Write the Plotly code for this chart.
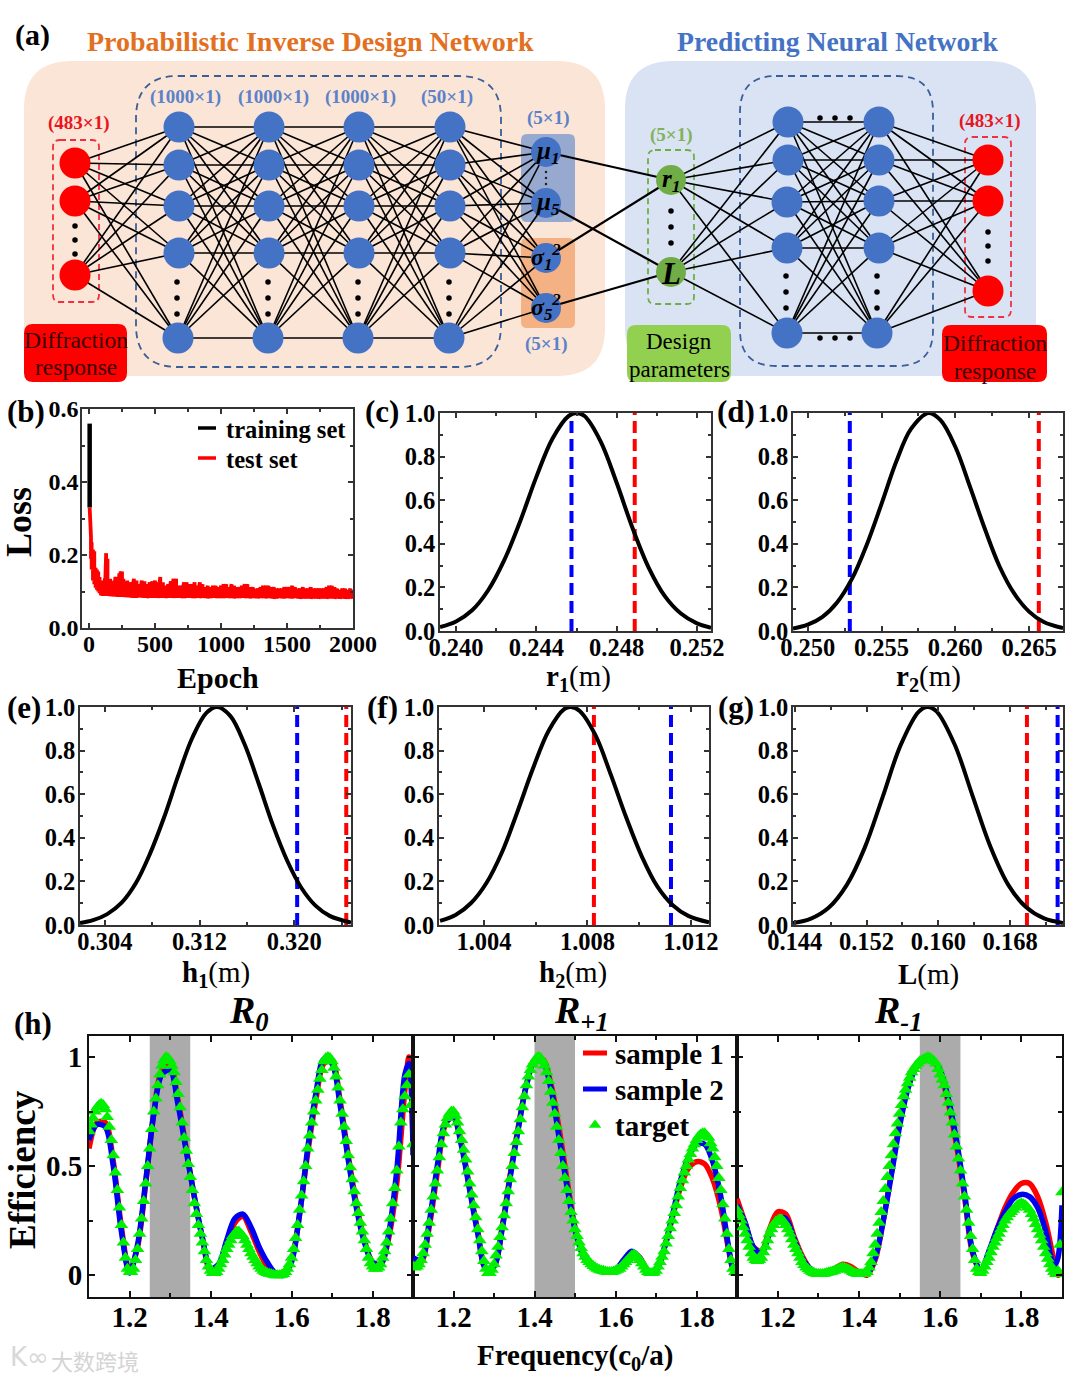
import plotly.graph_objects as go

# ---------- data ----------
loss_train_epoch = [5, 5]
loss_train = [0.56, 0.33]
loss_epoch = [5,10,15,20,30,40,50,60,70,80,90,100,110,120,130,140,150,160,170,180,190,200,210,220,230,240,250,260,270,280,290,300,
 320,340,360,380,400,420,440,460,480,500,520,540,560,580,600,620,640,660,680,700,720,740,760,780,800,820,840,860,880,900,920,940,960,980,
 1000,1020,1040,1060,1080,1100,1120,1140,1160,1180,1200,1220,1240,1260,1280,1300,1320,1340,1360,1380,1400,1420,1440,1460,1480,
 1500,1520,1540,1560,1580,1600,1620,1640,1660,1680,1700,1720,1740,1760,1780,1800,1820,1840,1860,1880,1900,1920,1940,1960,1980,2000]
loss_test_high = [.33,.29,.25,.235,.215,.21,.165,.16,.155,.14,.13,.12,.12,.135,.205,.19,.125,.135,.12,.12,.13,.14,.14,.125,.15,.155,.155,.135,.12,.125,.13,.12,
 .125,.135,.13,.12,.13,.128,.12,.125,.128,.13,.125,.14,.125,.116,.12,.128,.135,.135,.116,.116,.125,.125,.12,.12,.125,.116,.125,.12,.112,.116,.112,.116,.116,.112,
 .116,.12,.12,.112,.12,.116,.112,.112,.116,.12,.12,.112,.112,.108,.108,.112,.116,.116,.116,.112,.112,.108,.108,.108,.112,
 .112,.112,.116,.112,.108,.108,.112,.108,.108,.112,.108,.108,.108,.108,.108,.112,.116,.116,.112,.108,.104,.108,.108,.104,.108,.104]
loss_test_low = [.33,.26,.19,.16,.13,.12,.11,.105,.10,.095,.09,.088,.088,.088,.088,.088,.088,.087,.087,.086,.086,.086,.086,.085,.085,.085,.085,.085,.085,.084,.084,.084,
 .083,.083,.083,.084,.083,.083,.082,.083,.083,.083,.082,.083,.083,.082,.083,.083,.082,.083,.083,.082,.082,.083,.083,.082,.082,.083,.082,.083,.082,.081,.082,.083,.082,.082,
 .082,.082,.083,.082,.082,.081,.082,.082,.083,.082,.082,.081,.082,.082,.081,.082,.082,.081,.082,.081,.080,.081,.082,.081,.081,
 .082,.081,.081,.082,.081,.080,.081,.081,.081,.080,.081,.081,.080,.081,.081,.080,.081,.081,.080,.081,.080,.081,.080,.080,.081,.080]

r1_x = [.2392,.2400,.2408,.2416,.2424,.2432,.2440,.2448,.2456,.2460,.2464,.2472,.2480,.2488,.2496,.2504,.2512,.2520,.2527]
r1_y = [.018,.044,.095,.187,.325,.505,.707,.882,.986,1,.986,.87,.68,.47,.29,.16,.08,.035,.015]
r1_red, r1_blue = .2489, .24575
r2_x = [.2490,.2500,.2510,.2520,.2530,.2540,.2550,.2560,.2570,.2582,.2590,.2600,.2610,.2620,.2630,.2640,.2650,.2660,.2673]
r2_y = [.011,.029,.065,.132,.24,.396,.583,.777,.927,1,.967,.845,.661,.469,.296,.171,.089,.041,.013]
r2_red, r2_blue = .26566, .25285
h1_x = [.3019,.3030,.3042,.3054,.3066,.3078,.3090,.3102,.3114,.3126,.3135,.3146,.3158,.3170,.3182,.3194,.3206,.3218,.3230,.3248]
h1_y = [.009,.022,.05,.101,.19,.325,.493,.685,.86,.974,1,.959,.83,.649,.458,.296,.171,.089,.042,.011]
h1_red, h1_blue = .3244, .32025
h2_x = [1.0023,1.0029,1.0035,1.0041,1.0047,1.0053,1.0059,1.0065,1.0071,1.00736,1.0077,1.0083,1.0089,1.0095,1.0101,1.0107,1.0113,1.0119,1.0127]
h2_y = [.019,.046,.101,.194,.335,.522,.72,.891,.99,1,.982,.873,.691,.493,.315,.177,.091,.042,.012]
h2_red, h2_blue = 1.00825, 1.01123
L_x = [.1438,.1458,.1478,.1498,.1518,.1538,.1558,.1578,.1588,.1598,.1618,.1638,.1658,.1678,.1698,.1718,.1739]
L_y = [.009,.029,.08,.184,.355,.588,.825,.978,1,.98,.83,.595,.36,.184,.081,.03,.009]
L_red, L_blue = .16988, .1733

freq_sample = [1.10,1.12,1.14,1.16,1.18,1.20,1.22,1.24,1.26,1.28,1.30,1.32,1.34,1.36,1.38,1.40,1.42,1.44,1.46,1.48,1.50,
 1.52,1.54,1.56,1.58,1.60,1.62,1.64,1.66,1.68,1.70,1.72,1.74,1.76,1.78,1.80,1.82,1.84,1.86,1.88,1.89,1.90]

R0_s1 = [.58,.70,.70,.52,.22,.02,.13,.42,.74,.94,.96,.80,.58,.36,.17,.02,.04,.14,.24,.27,.20,.11,.04,0,.01,.07,.28,.56,.80,.97,.98,.80,.55,.33,.16,.06,.05,.17,.42,.85,1.0,.62]
R0_s2 = [.62,.69,.68,.50,.20,.01,.14,.43,.74,.92,.94,.78,.57,.36,.17,.03,.05,.16,.26,.28,.22,.13,.06,.01,0,.06,.28,.58,.83,.99,.97,.78,.53,.31,.15,.06,.05,.19,.48,.92,.97,.55]
R0_t = [.66,.69,.72,.75,.77,.78,.785,.78,.76,.725,.68,.62,.55,.47,.39,.31,.23,.15,.08,.03,.015,.015,.03,.07,.12,.19,.26,.34,.42,.50,.58,.67,.75,.81,.87,.92,.96,.985,1.0,.995,
 .98,.96,.93,.885,.83,.77,.70,.63,.57,.51,.45,.39,.33,.28,.23,.19,.15,.11,.07,.04,.02,.01,.01,.015,.03,.05,.07,.095,.12,.14,.16,.18,.19,.2,.2,.19,.18,.16,.14,.12,
 .10,.085,.07,.055,.04,.03,.02,.015,.01,.007,.005,.002,0,0,0,.002,.005,.015,.03,.05,.08,.12,.17,.23,.30,.365,.43,.50,.58,.64,.70,.75,.80,.85,.90,.94,.98,.995,1.0,.995,
 .98,.95,.91,.86,.80,.74,.68,.615,.55,.495,.44,.385,.33,.285,.24,.20,.16,.12,.08,.055,.04,.03,.03,.035,.05,.08,.11,.15,.20,.26,.33,.40,.48,.59,.70,.76,.82,.87,.92,.78,.60]

Rp_s1 = [.06,.06,.22,.47,.69,.73,.60,.40,.20,.03,.04,.22,.46,.68,.87,.98,.99,.88,.68,.44,.22,.09,.04,.02,.015,.02,.06,.10,.08,.02,.02,.12,.26,.40,.49,.52,.51,.44,.31,.11,.03,.01]
Rp_s2 = [.08,.07,.24,.50,.70,.72,.59,.39,.19,.03,.04,.21,.45,.67,.87,.98,.98,.86,.64,.41,.21,.09,.04,.02,.015,.025,.07,.11,.08,.02,.02,.12,.27,.43,.54,.60,.60,.52,.36,.12,.03,.01]
Rp_t = [.04,.035,.04,.05,.07,.10,.14,.19,.24,.30,.36,.42,.48,.54,.60,.65,.69,.72,.74,.75,.75,.73,.70,.66,.62,.575,.53,.475,.42,.37,.32,.265,.21,.16,.11,.065,.03,.01,.01,.025,
 .05,.09,.13,.175,.22,.275,.33,.385,.44,.50,.56,.61,.66,.715,.77,.82,.87,.91,.94,.965,.98,.995,1.0,.995,.98,.96,.93,.89,.84,.79,.74,.68,.62,.56,.50,.445,.39,.34,.29,.25,
 .21,.18,.15,.125,.10,.085,.07,.06,.05,.042,.035,.03,.025,.022,.02,.017,.015,.015,.015,.017,.02,.025,.03,.04,.05,.06,.07,.08,.09,.095,.09,.08,.07,.055,.04,.025,.015,.01,.01,.012,
 .02,.04,.06,.085,.11,.145,.18,.215,.25,.285,.32,.36,.40,.435,.47,.50,.53,.555,.58,.60,.62,.635,.645,.65,.65,.64,.63,.605,.58,.54,.50,.445,.39,.325,.26,.19,.12,.07,.03,.015,.01]

Rm_s1 = [.35,.24,.13,.11,.21,.29,.28,.18,.09,.03,.01,.015,.03,.05,.04,.015,0,.07,.25,.47,.70,.86,.95,.99,.99,.93,.79,.60,.36,.10,.02,.10,.21,.31,.38,.42,.42,.36,.24,.07,0,.01]
Rm_s2 = [.32,.24,.13,.10,.19,.26,.26,.17,.08,.03,.01,.015,.02,.03,.025,.01,.005,.08,.25,.46,.68,.85,.95,.99,.99,.94,.81,.62,.38,.11,.02,.11,.21,.29,.35,.37,.36,.31,.20,.04,.08,.32]
Rm_t = [.30,.275,.25,.22,.19,.16,.13,.10,.08,.07,.065,.07,.08,.105,.13,.16,.19,.21,.23,.245,.25,.255,.255,.245,.23,.21,.19,.165,.14,.12,.10,.08,.06,.047,.035,.027,.02,.015,.01,.007,
 .005,.005,.005,.007,.01,.012,.015,.017,.02,.025,.03,.033,.035,.033,.03,.025,.02,.015,.01,.007,.005,.005,.005,.008,.015,.035,.06,.10,.14,.19,.24,.29,.34,.395,.45,.50,.55,.60,.65,.695,
 .74,.78,.82,.85,.88,.905,.93,.945,.96,.97,.98,.985,.99,.995,1.0,.995,.99,.98,.97,.945,.92,.895,.87,.83,.79,.745,.70,.645,.59,.535,.48,.42,.36,.30,.24,.18,.12,.07,.03,.015,
 .01,.02,.04,.06,.08,.105,.13,.15,.17,.19,.21,.23,.25,.265,.28,.29,.30,.31,.32,.325,.33,.325,.32,.31,.30,.28,.26,.235,.21,.185,.16,.13,.10,.075,.05,.03,.015,.005,.02,.14,.38]

freq_target = [round(1.10 + 0.005 * i, 3) for i in range(len(R0_t))]
bands = [(1.25, 1.35), (1.40, 1.50), (1.55, 1.65)]

# ---------- page constants ----------
W, H = 1073, 1379
SERIF = "Liberation Serif"
INK = "#333333"
fig = go.Figure()

def ann(x, y, text, size=21, color="black", bold=True, angle=0, family=SERIF, italic=False):
    t = text
    if italic: t = f"<i>{t}</i>"
    if bold: t = f"<b>{t}</b>"
    fig.add_annotation(x=x, y=y, xref="x", yref="y", text=t, showarrow=False, textangle=angle,
                       font=dict(family=family, size=size, color=color), xanchor="center", yanchor="middle")

def rrect(x0, y0, x1, y1, r):
    return (f"M{x0+r},{y0} L{x1-r},{y0} Q{x1},{y0} {x1},{y0+r} L{x1},{y1-r} Q{x1},{y1} {x1-r},{y1} "
            f"L{x0+r},{y1} Q{x0},{y1} {x0},{y1-r} L{x0},{y0+r} Q{x0},{y0} {x0+r},{y0} Z")

def box(x0, y0, x1, y1, r, fill=None, line=None, dash=None, width=1.8):
    fig.add_shape(type="path", path=rrect(x0, y0, x1, y1, r), xref="x", yref="y", layer="below",
                  fillcolor=fill if fill else "rgba(0,0,0,0)",
                  line=dict(color=line if line else "rgba(0,0,0,0)", width=width if line else 0, dash=dash or "solid"))

# ---------- panel (a) network ----------
box(24, 61, 605, 376, 48, fill="#FBE5D6")
box(625, 61, 1036, 376, 48, fill="#DAE3F3")
box(521, 134, 575, 222, 6, fill="#97A9CF")
box(521, 238, 575, 328, 6, fill="#F4B183")
box(136, 76, 501, 367, 42, line="#3A5E99", dash="7px,5px")
box(740, 76, 933, 366, 36, line="#3A5E99", dash="7px,5px")
box(53, 140, 99, 302, 7, line="#F03040", dash="6px,4px")
box(648, 150, 694, 304, 7, line="#70AD47", dash="6px,4px")
box(965, 137, 1011, 317, 7, line="#F03040", dash="6px,4px")
box(24, 324, 127, 382, 9, fill="#FF0000")
box(627, 325, 731, 382, 9, fill="#92D050")
box(942, 325, 1047, 382, 9, fill="#FF0000")

inp = [(75, 163), (75, 201), (75, 275)]
def col(x):
    ys = [127, 165, 206, 253, 338]
    return [(x, y) if i < 4 else (x - 1, y) for i, y in enumerate(ys)]
L1, L2, L3, L4 = col(179), col(269), col(359), col(450)
outs = [(546, 152), (546, 203), (546, 258), (546, 308)]
green = [(671, 180), (671, 272)]
P1 = [(788, 122), (788, 160), (787, 202), (787, 248), (787, 333)]
P2 = [(879, 122), (879, 160), (879, 201), (879, 248), (877, 333)]
rout = [(988, 160), (988, 201), (988, 291)]

def conn(A, B):
    xs, ys = [], []
    for a in A:
        for b in B:
            xs += [a[0], b[0], None]; ys += [a[1], b[1], None]
    return xs, ys

xs, ys = [], []
for A, B in [(inp, L1), (L1, L2), (L2, L3), (L3, L4), (L4, outs), (green, P1), (P1, P2), (P2, rout)]:
    a, b = conn(A, B); xs += a; ys += b
fig.add_trace(go.Scatter(x=xs, y=ys, mode="lines", line=dict(color="black", width=1.6), hoverinfo="skip", showlegend=False))
xs, ys = [], []
for a, b in [(outs[0], green[0]), (outs[1], green[1]), (outs[2], green[0]), (outs[3], green[1])]:
    xs += [a[0], b[0], None]; ys += [a[1], b[1], None]
fig.add_trace(go.Scatter(x=xs, y=ys, mode="lines", line=dict(color="black", width=2.2), hoverinfo="skip", showlegend=False))

def nodes(P, color, size):
    fig.add_trace(go.Scatter(x=[p[0] for p in P], y=[p[1] for p in P], mode="markers",
                             marker=dict(color=color, size=size, line=dict(width=0)), hoverinfo="skip", showlegend=False))
nodes(inp, "#FF0000", 31)
nodes(L1 + L2 + L3 + L4 + P1 + P2, "#4472C4", 31)
nodes(outs, "#4472C4", 30)
nodes(green, "#70AD47", 30)
nodes(rout, "#FF0000", 31)
dots = [(75, 226), (75, 240), (75, 254), (671, 211), (671, 227), (671, 243), (988, 232), (988, 246), (988, 261),
        (820, 118), (835, 118), (850, 118), (820, 338), (835, 338), (850, 338)]
for x in (177, 268, 358, 449):
    dots += [(x, 282), (x, 298), (x, 314)]
for x in (786, 877):
    dots += [(x, 276), (x, 292), (x, 308)]
nodes(dots, "black", 5.5)
nodes([(546, 172), (546, 178), (546, 184)], "#222222", 2.5)

ORANGE, BLUE = "#E2701F", "#4472C4"
ann(310, 41, "Probabilistic Inverse Design Network", 28, ORANGE)
ann(838, 41, "Predicting Neural Network", 27.7, BLUE)
for x, t in [(185, "(1000×1)"), (273, "(1000×1)"), (360, "(1000×1)"), (447, "(50×1)"), (548, "(5×1)")]:
    ann(x, 97 if x < 500 else 118, t, 19, "#5B82C8")
ann(546, 344, "(5×1)", 19, "#5B82C8")
ann(671, 135, "(5×1)", 19, "#7FB35A")
ann(78, 123, "(483×1)", 19, "#E8141E")
ann(989, 121, "(483×1)", 19, "#E8141E")
ann(76, 340, "Diffraction", 23.5, "#3a0000", bold=False)
ann(76, 367, "response", 23.5, "#3a0000", bold=False)
ann(995, 343, "Diffraction", 23.5, "#3a0000", bold=False)
ann(995, 371, "response", 23.5, "#3a0000", bold=False)
ann(679, 341, "Design", 23, "black", bold=False)
ann(679, 369, "parameters", 23, "black", bold=False)
for x, y, t, s in [(547, 152, "μ<sub>1</sub>", 25), (547, 203, "μ<sub>5</sub>", 25), (546, 257, "σ<sub>1</sub><sup>2</sup>", 24),
                   (546, 307, "σ<sub>5</sub><sup>2</sup>", 24), (671, 180, "r<sub>1</sub>", 25), (671, 273, "L", 31)]:
    ann(x, y, t, s, "black", italic=True)
ann(32, 35, "(a)", 30)

# ---------- axes ----------
fig.update_layout(
    width=W, height=H, margin=dict(l=0, r=0, t=0, b=0, pad=0, autoexpand=False), autosize=False,
    paper_bgcolor="white", plot_bgcolor="rgba(0,0,0,0)", showlegend=False,
    xaxis=dict(range=[0, W], domain=[0, 1], visible=False, fixedrange=True),
    yaxis=dict(range=[H, 0], domain=[0, 1], visible=False, fixedrange=True, anchor="x"),
)
axis_no = [1]
def panel(px0, px1, py0, py1, xr, yr, xtick0, xdtick, xminor, ytick0, ydtick, yminor, xfmt, yfmt,
          size=25, xstand=0, ystand=0, yshow=True, lw=1.6, ticklen=5, ink=INK):
    axis_no[0] += 1
    n = axis_no[0]
    common = dict(showline=True, linecolor=ink, linewidth=lw, mirror="ticks", ticks="inside", ticklen=ticklen,
                  tickwidth=lw, tickcolor=ink, showgrid=False, zeroline=False, fixedrange=True,
                  tickfont=dict(family=SERIF, size=size, color="black", weight="bold"))
    fig.layout[f"xaxis{n}"] = dict(domain=[px0 / W, px1 / W], range=xr, anchor=f"y{n}", tick0=xtick0, dtick=xdtick,
                                   tickformat=xfmt, ticklabelstandoff=xstand,
                                   minor=dict(tick0=xtick0, dtick=xminor, ticks="inside", ticklen=ticklen - 2,
                                              tickcolor=ink, tickwidth=lw, showgrid=False), **common)
    fig.layout[f"yaxis{n}"] = dict(domain=[1 - py1 / H, 1 - py0 / H], range=yr, anchor=f"x{n}", tick0=ytick0, dtick=ydtick,
                                   tickformat=yfmt, ticklabelstandoff=ystand, showticklabels=yshow,
                                   minor=dict(tick0=ytick0, dtick=yminor, ticks="inside", ticklen=ticklen - 2,
                                              tickcolor=ink, tickwidth=lw, showgrid=False), **common)
    return f"x{n}", f"y{n}"

# ---------- panel (b) ----------
xa, ya = panel(82, 353, 409, 628, [-53, 2000], [0, 0.6], 0, 500, 250, 0, 0.2, 0.1, "d", ".1f", size=24, xstand=-7, ystand=-3)
fig.add_trace(go.Scatter(x=loss_train_epoch, y=loss_train, xaxis=xa, yaxis=ya, mode="lines", name="training set",
                         line=dict(color="black", width=4.5)))
test_x, test_y = [], []
for e, hi, lo in zip(loss_epoch, loss_test_high, loss_test_low):
    test_x += [e, e]; test_y += [hi, lo]
fig.add_trace(go.Scatter(x=test_x, y=test_y, xaxis=xa, yaxis=ya, mode="lines", name="test set",
                         line=dict(color="#FF0000", width=3.8)))
# legend (b)
fig.add_shape(type="line", x0=198, x1=216, y0=428, y1=428, xref="x", yref="y", line=dict(color="black", width=3.5), layer="above")
fig.add_shape(type="line", x0=198, x1=216, y0=458, y1=458, xref="x", yref="y", line=dict(color="#FF0000", width=3.5), layer="above")
ann(286, 429, "training set", 24.6)
ann(262, 459, "test set", 24.6)
ann(26, 411, "(b)", 31)
ann(218, 677, "Epoch", 30)
ann(19, 522, "Loss", 36, angle=-90)

# ---------- panels (c)-(g) ----------
gauss = [
    (440, 711, 413, 631, [.2392, .2527], .240, .004, .002, ".3f", r1_x, r1_y, r1_red, r1_blue, "(c)", 382, 411, "r<sub>1</sub>", 578, 678),
    (793, 1063, 413, 631, [.2490, .2673], .250, .005, .0025, ".3f", r2_x, r2_y, r2_red, r2_blue, "(d)", 736, 411, "r<sub>2</sub>", 928, 678),
    (80, 351, 707, 925, [.3019, .3248], .304, .008, .004, ".3f", h1_x, h1_y, h1_red, h1_blue, "(e)", 24, 707, "h<sub>1</sub>", 216, 974),
    (439, 709, 707, 925, [1.00226, 1.0127], 1.004, .004, .002, ".3f", h2_x, h2_y, h2_red, h2_blue, "(f)", 382, 707, "h<sub>2</sub>", 573, 974),
    (793, 1063, 707, 925, [.1438, .1739], .144, .008, .004, ".3f", L_x, L_y, L_red, L_blue, "(g)", 736, 707, "L", 928, 974),
]
for px0, px1, py0, py1, xr, t0, dt, mn, fmt, gx, gy, red, blue, lab, lx, ly, title, tx, ty in gauss:
    xa, ya = panel(px0, px1, py0, py1, xr, [0, 1.0], t0, dt, mn, 0, 0.2, 0.1, fmt, ".1f", size=24.5, xstand=-6, ystand=-2)
    fig.add_trace(go.Scatter(x=[blue, blue], y=[0, 1], xaxis=xa, yaxis=ya, mode="lines", line=dict(color="#0000FF", width=4, dash="12px,6px")))
    fig.add_trace(go.Scatter(x=[red, red], y=[0, 1], xaxis=xa, yaxis=ya, mode="lines", line=dict(color="#FF0000", width=4, dash="12px,6px")))
    fig.add_trace(go.Scatter(x=gx, y=gy, xaxis=xa, yaxis=ya, mode="lines", line=dict(color="black", width=4, shape="spline", smoothing=1.0)))
    ann(lx, ly, lab, 31)
    ann(tx, ty, f"<b>{title}</b>(m)", 29, bold=False)

# ---------- panel (h) ----------
efficiency = [(89, 413, R0_s1, R0_s2, R0_t, bands[0], True), (413, 737, Rp_s1, Rp_s2, Rp_t, bands[1], False), (737, 1062, Rm_s1, Rm_s2, Rm_t, bands[2], False)]
for px0, px1, s1, s2, t, band, show in efficiency:
    xa, ya = panel(px0, px1, 1036, 1297, [1.1, 1.9], [-0.1, 1.096], 1.2, 0.2, 0.1, 0, 0.5, 0.25, ".1f", "~g",
                   size=29, xstand=-7, ystand=-1, yshow=show, lw=1.8, ticklen=6, ink="#111111")
    fig.add_shape(type="rect", xref=xa, yref=f"{ya} domain", x0=band[0], x1=band[1], y0=0, y1=1, layer="below",
                  fillcolor="#ABABAB", line=dict(width=0))
    fig.add_trace(go.Scatter(x=freq_sample, y=s1, xaxis=xa, yaxis=ya, mode="lines", name="sample 1",
                             line=dict(color="#FF0000", width=5.5, shape="spline", smoothing=0.9)))
    fig.add_trace(go.Scatter(x=freq_sample, y=s2, xaxis=xa, yaxis=ya, mode="lines", name="sample 2",
                             line=dict(color="#0000F0", width=5.5, shape="spline", smoothing=0.9)))
    fig.add_trace(go.Scatter(x=freq_target, y=t, xaxis=xa, yaxis=ya, mode="markers", name="target",
                             marker=dict(symbol="triangle-up", color="#00F000", size=12, line=dict(width=0))))
fig.add_shape(type="line", x0=583, x1=607, y0=1053, y1=1053, xref="x", yref="y", line=dict(color="#FF0000", width=5), layer="above")
fig.add_shape(type="line", x0=583, x1=607, y0=1089, y1=1089, xref="x", yref="y", line=dict(color="#0000F0", width=5), layer="above")
fig.add_trace(go.Scatter(x=[595], y=[1125], mode="markers", marker=dict(symbol="triangle-up", color="#00F000", size=11, line=dict(width=0)), hoverinfo="skip"))
ann(669, 1054, "sample 1", 29)
ann(669, 1090, "sample 2", 29)
ann(652, 1126, "target", 29)
ann(33, 1023, "(h)", 31)
ann(249, 1013, "R<sub>0</sub>", 38, italic=True)
ann(581, 1013, "R<sub>+1</sub>", 38, italic=True)
ann(898, 1013, "R<sub>-1</sub>", 38, italic=True)
ann(22, 1170, "Efficiency", 37, angle=-90)
ann(575, 1357, "Frequency(c<sub>0</sub>/a)", 29)

# watermark
ann(95, 1360, "大数跨境", 22, "#d4d4d4", bold=False, family="Noto Sans CJK SC")
ann(29, 1357, "K∞", 26, "#d8d8d8", bold=False, family="DejaVu Sans")

fig.write_html("out.html", config=dict(displayModeBar=False), post_script="document.body.style.margin='0';")
